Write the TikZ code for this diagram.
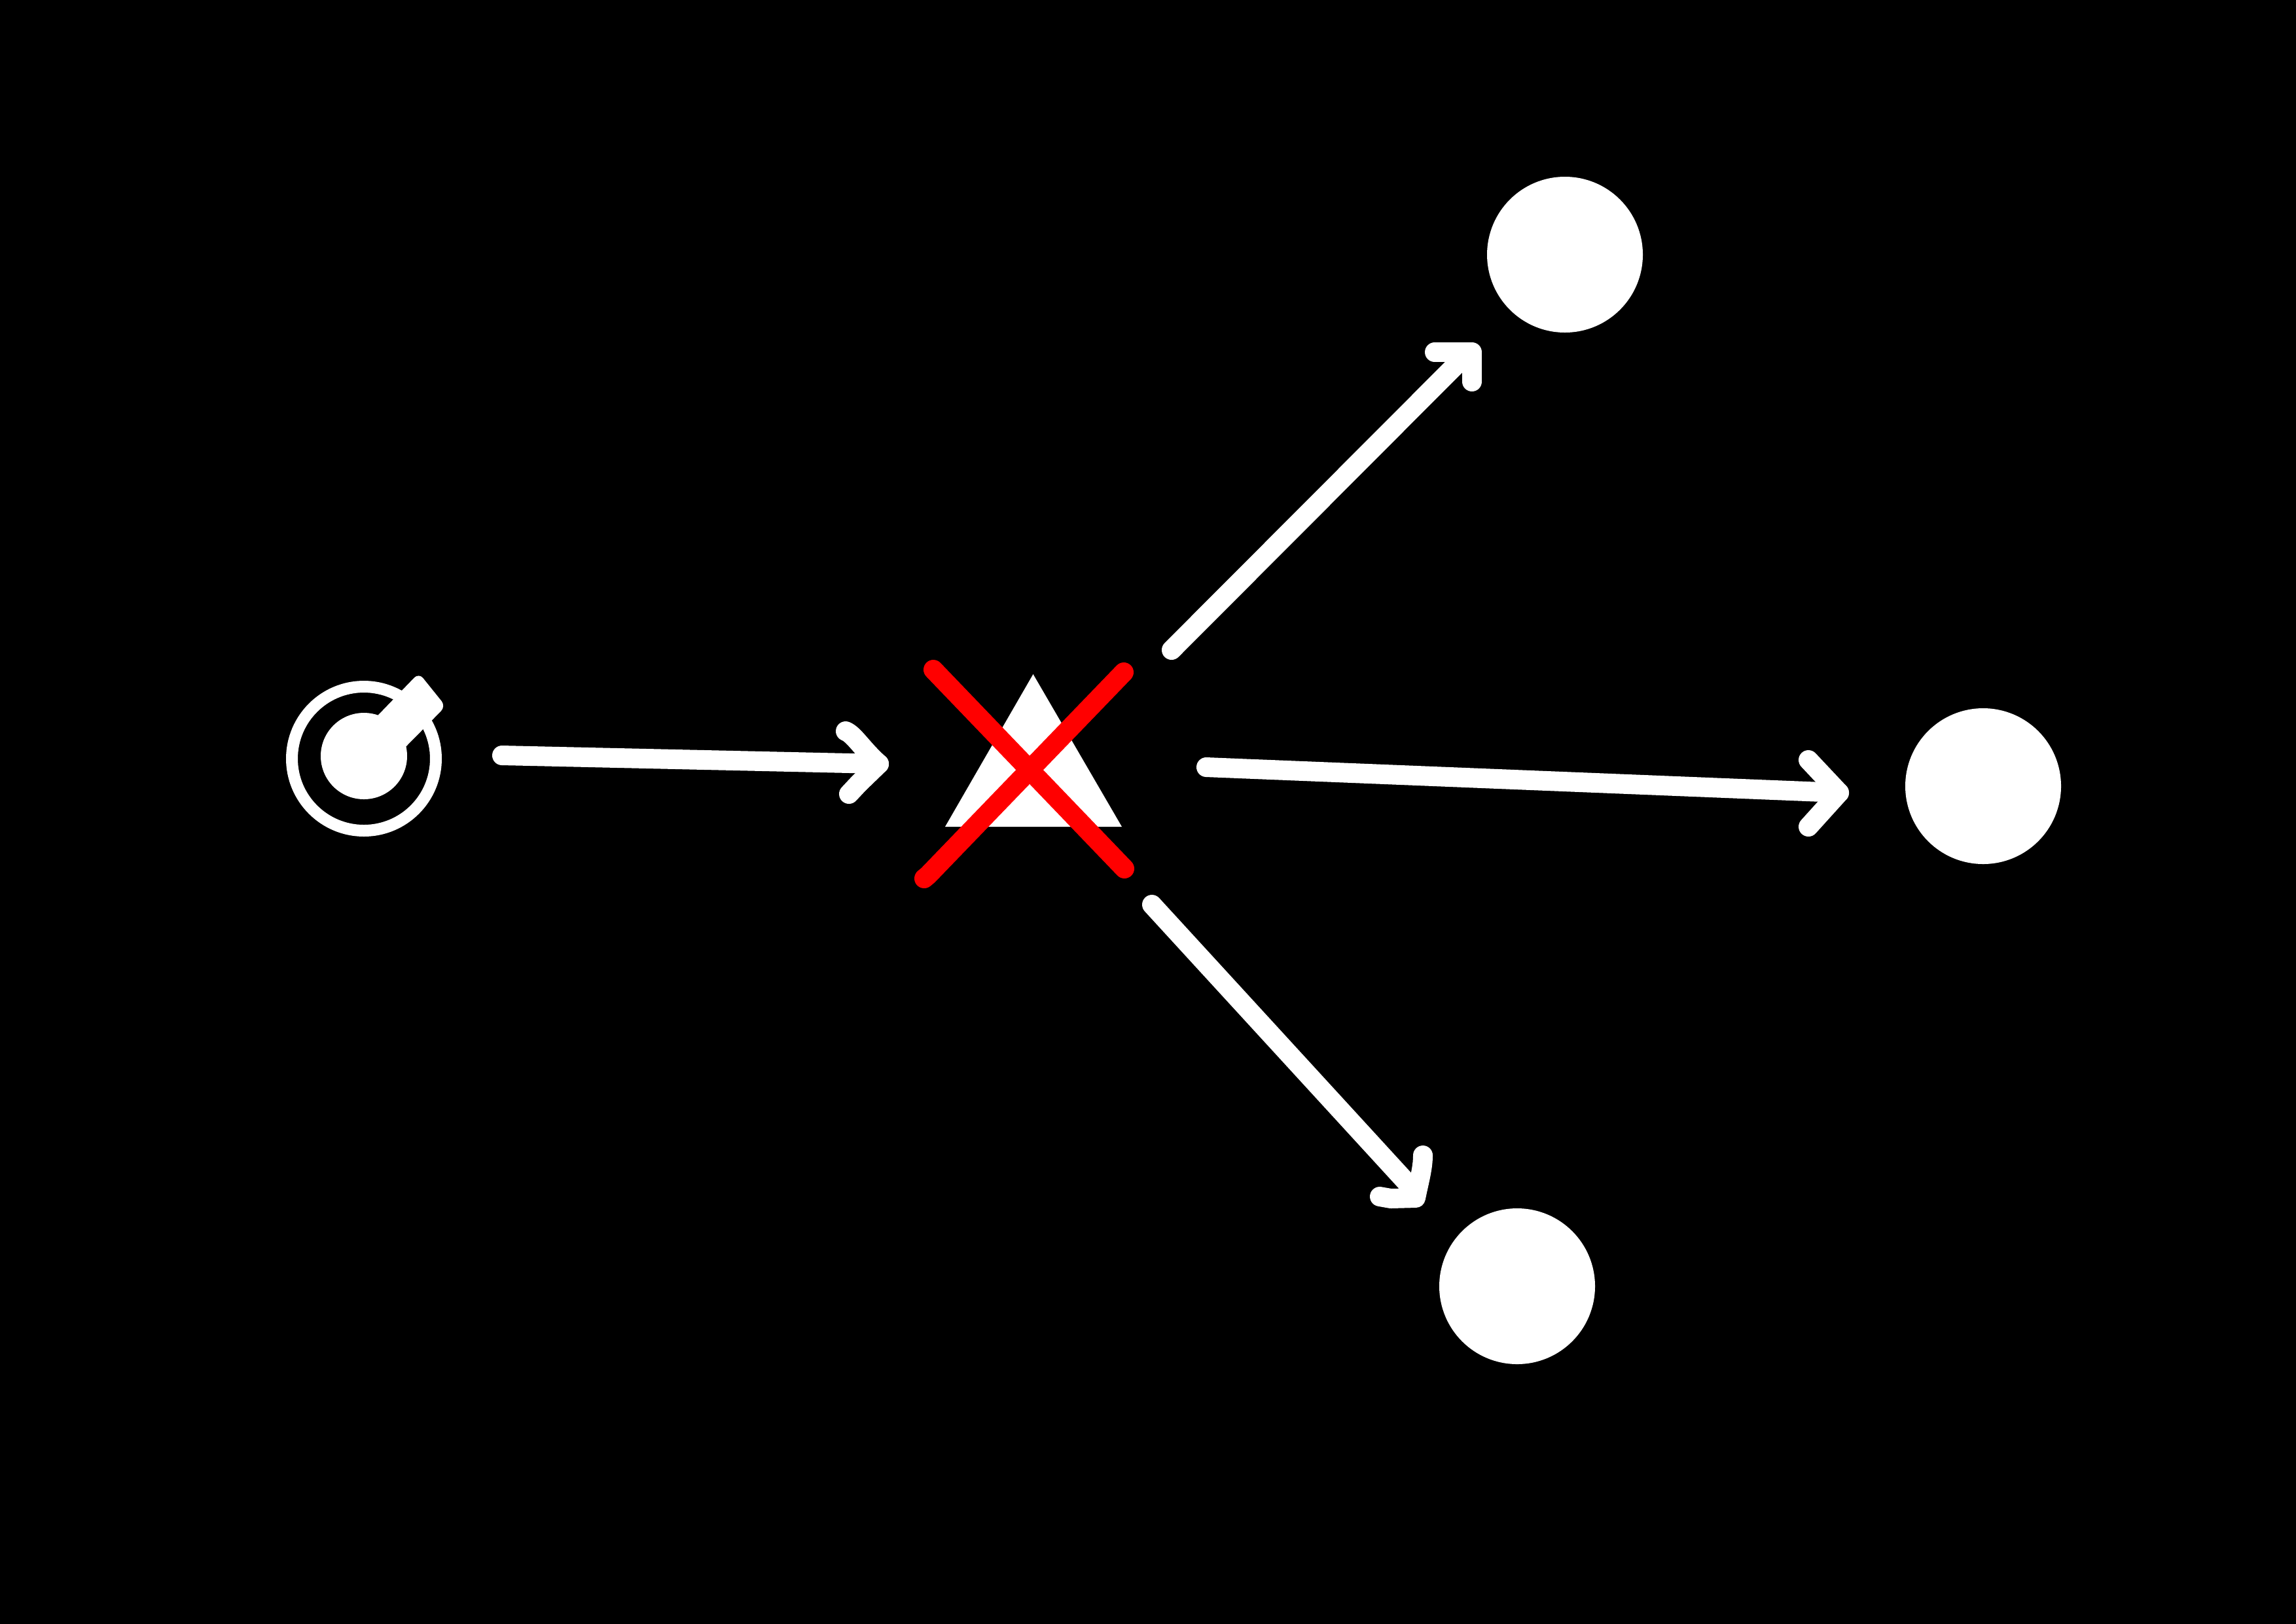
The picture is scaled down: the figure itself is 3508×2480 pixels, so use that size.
\documentclass[tikz,border=0pt]{standalone}
\tikzset{
  disc/.style={circle,fill=white,draw=none,inner sep=0pt,minimum size=23.8pt},
  ring/.style={circle,draw=white,fill=none,line width=1.8pt,inner sep=0pt,minimum size=22pt},
  core/.style={circle,fill=white,draw=none,inner sep=0pt,minimum size=13.2pt},
  wire/.style={draw=white,line width=3pt,line cap=round,line join=round},
  cross/.style={draw=red,line width=3pt,line cap=round,line join=round}
}
\begin{document}
\begin{tikzpicture}[x=0.1pt,y=-0.1pt]
\useasboundingbox (0,0) rectangle (3508,2480);
\fill[black] (-10,-10) rectangle (3518,2490);

% source symbol
\node[ring] (src) at (556,1159) {};
\node[core] (srccore) at (556,1155) {};
\fill[white,rounded corners=1pt] (556,1115) -- (640,1028) -- (681,1079) -- (600,1161) -- cycle;

% triangle
\coordinate (apex) at (1578.5,1030);
\coordinate (baseL) at (1444,1263);
\coordinate (baseR) at (1714,1263);
\fill[white] (apex) -- (baseL) -- (baseR) -- cycle;

% red cross
\coordinate (xa) at (1426,1023);
\coordinate (xb) at (1718,1327);
\coordinate (xc) at (1717,1027);
\coordinate (xk) at (1418,1337);
\coordinate (xd) at (1412,1342);
\draw[cross] (xa) -- (xb);
\draw[cross] (xc) -- (xk) -- (xd);

% target discs
\node[disc] (t1) at (2391,389) {};
\node[disc] (t2) at (3030,1201) {};
\node[disc] (t3) at (2318,1965) {};

% arrow 1
\coordinate (a1s) at (767,1154);
\coordinate (a1e) at (1343,1167);
\coordinate (a1u) at (1292,1117);
\coordinate (a1l) at (1297,1213);
\draw[wire] (a1s) -- (a1e);
\draw[wire] (a1u) .. controls (1305,1122) and (1318,1145) .. (a1e) -- (1312,1197) -- (a1l);

% arrow 2
\coordinate (a2s) at (1790,993);
\coordinate (a2m) at (2240,542);
\coordinate (a2e) at (2249,538);
\coordinate (a2u) at (2192,538);
\coordinate (a2l) at (2249,583);
\draw[wire] (a2s) -- (a2m);
\draw[wire] (a2u) -- (a2e) -- (a2l);

% arrow 3
\coordinate (a3s) at (1843,1172);
\coordinate (a3e) at (2810,1211);
\coordinate (a3u) at (2763,1161);
\coordinate (a3l) at (2763,1263);
\draw[wire] (a3s) -- (a3e);
\draw[wire] (a3u) -- (a3e) -- (a3l);

% arrow 4
\coordinate (a4s) at (1760,1382);
\coordinate (a4m) at (2158,1816);
\coordinate (a4e) at (2163,1830);
\coordinate (a4u) at (2174,1765);
\coordinate (a4l) at (2108,1828);
\draw[wire] (a4s) -- (a4m);
\draw[wire] (a4u) .. controls (2174,1785) and (2168,1805) .. (a4e) -- (2125,1831) -- (a4l);
\end{tikzpicture}
\end{document}
